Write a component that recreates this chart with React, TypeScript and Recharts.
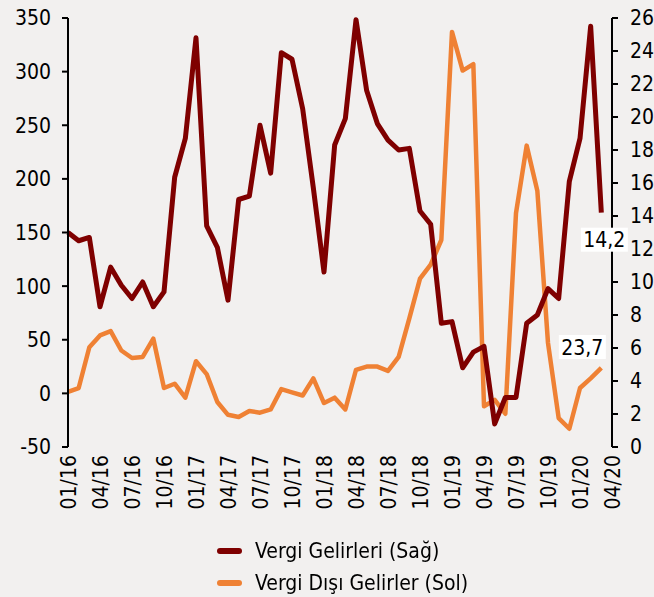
import React from 'react';
import { LineChart, Line, XAxis, YAxis, Legend, LabelList } from 'recharts';

const months = [
  '01/16', '02/16', '03/16', '04/16', '05/16', '06/16', '07/16', '08/16', '09/16', '10/16', '11/16', '12/16',
  '01/17', '02/17', '03/17', '04/17', '05/17', '06/17', '07/17', '08/17', '09/17', '10/17', '11/17', '12/17',
  '01/18', '02/18', '03/18', '04/18', '05/18', '06/18', '07/18', '08/18', '09/18', '10/18', '11/18', '12/18',
  '01/19', '02/19', '03/19', '04/19', '05/19', '06/19', '07/19', '08/19', '09/19', '10/19', '11/19', '12/19',
  '01/20', '02/20', '03/20', '04/20',
];

// Vergi Gelirleri (Sağ) - right axis
const vergiGelirleri = [
  13.0, 12.5, 12.7, 8.5, 10.9, 9.8, 9.0, 10.0, 8.5, 9.4, 16.35, 18.7, 24.8,
  13.4, 12.1, 8.9, 15.0, 15.2, 19.5, 16.6, 23.9, 23.5, 20.5, 15.7, 10.6, 18.3,
  19.9, 25.9, 21.6, 19.6, 18.6, 18.0, 18.1, 14.3, 13.5, 7.5, 7.6, 4.8,
  5.75, 6.1, 1.4, 3.0, 3.0, 7.5, 8.0, 9.6, 9.0, 16.1, 18.7, 25.5, 14.2,
];

// Vergi Dışı Gelirler (Sol) - left axis
const vergiDisiGelirler = [
  1.5, 5, 43, 54, 58, 40, 33, 34, 51, 5, 9, -4, 30,
  18, -8, -20, -22, -16.5, -18, -15, 4, 1, -2, 14, -9, -4,
  -15, 22, 25, 25, 21, 34, 70, 107, 120, 143, 337, 301,
  307, -12, -6, -19, 168, 231, 189, 47, -23, -33, 5, 14, 23.7,
];

const leftTicks = [-50, 0, 50, 100, 150, 200, 250, 300, 350];
const rightTicks = [0, 2, 4, 6, 8, 10, 12, 14, 16, 18, 20, 22, 24, 26];

const seriesNames = ['Vergi Gelirleri (Sağ)', 'Vergi Dışı Gelirler (Sol)'];
const colors = ['#7F0000', '#EF8134'];

const data = months.map((m, i) => ({
  month: m,
  vergi: i < vergiGelirleri.length ? vergiGelirleri[i] : null,
  disi: i < vergiDisiGelirler.length ? vergiDisiGelirler[i] : null,
}));

const lastIndex = vergiGelirleri.length - 1;
const FONT = '"DejaVu Sans Condensed", "DejaVu Sans", sans-serif';
const BG = '#F2F0EF';
const FS = 21;

const fmt = (v: number) => String(v).replace('.', ',');

const XTick = (props: any) => {
  const { x, y, payload } = props;
  return (
    <text
      x={x}
      y={y}
      transform={`rotate(-90, ${x}, ${y})`}
      textAnchor="end"
      dy="0.36em"
      fontSize={FS}
      fontFamily={FONT}
      fill="#000"
    >
      {payload.value}
    </text>
  );
};

const makeEndLabel = (dx: number, dy: number) => (props: any) => {
  const { x, y, value, index } = props;
  if (index !== lastIndex || value == null) return null;
  const cx = x + dx;
  const cy = y + dy;
  const w = 47;
  const h = 24;
  return (
    <g>
      <rect x={cx - w / 2} y={cy - h / 2} width={w} height={h} fill="#fff" />
      <text
        x={cx}
        y={cy}
        dy="0.36em"
        textAnchor="middle"
        fontSize={FS}
        fontFamily={FONT}
        fill="#000"
      >
        {fmt(value)}
      </text>
    </g>
  );
};

const renderLegend = () => (
  <div style={{ fontFamily: FONT, fontSize: FS, color: '#000' }}>
    {seriesNames.map((n, i) => (
      <div key={n} style={{ display: 'flex', alignItems: 'center', height: 32 }}>
        <span
          style={{
            display: 'inline-block',
            width: 25,
            height: 6,
            borderRadius: 3,
            background: colors[i],
            marginRight: 13,
          }}
        />
        <span>{n}</span>
      </div>
    ))}
  </div>
);

export default function App() {
  return (
    <div
      style={{
        position: 'fixed',
        left: 0,
        top: 0,
        width: 654,
        height: 597,
        background: BG,
      }}
    >
      <LineChart
        width={654}
        height={597}
        data={data}
        margin={{ top: 18, right: 0, left: 0, bottom: 75 }}
      >
        <XAxis
          dataKey="month"
          interval={2}
          axisLine={false}
          tickLine={false}
          height={75}
          tick={<XTick />}
        />
        <YAxis
          yAxisId="left"
          orientation="left"
          width={68}
          domain={[-50, 350]}
          ticks={leftTicks}
          interval={0}
          axisLine={{ stroke: '#000', strokeWidth: 2 }}
          tickLine={{ stroke: '#000', strokeWidth: 2 }}
          tickSize={6}
          tickMargin={11}
          tick={{ fill: '#000', fontSize: FS, fontFamily: FONT }}
        />
        <YAxis
          yAxisId="right"
          orientation="right"
          width={42}
          domain={[0, 26]}
          ticks={rightTicks}
          interval={0}
          axisLine={{ stroke: '#000', strokeWidth: 2 }}
          tickLine={{ stroke: '#000', strokeWidth: 2 }}
          tickSize={6}
          tickMargin={12}
          tick={{ fill: '#000', fontSize: FS, fontFamily: FONT }}
        />
        <Legend
          layout="vertical"
          align="center"
          verticalAlign="middle"
          content={renderLegend}
          wrapperStyle={{ position: 'absolute', top: 535, left: 217, width: 'auto' }}
        />
        <Line
          yAxisId="left"
          dataKey="disi"
          name={seriesNames[1]}
          stroke={colors[1]}
          strokeWidth={4.5}
          dot={false}
          strokeLinejoin="round"
          isAnimationActive={false}
          connectNulls={false}
        >
          <LabelList dataKey="disi" content={makeEndLabel(-19, -21)} />
        </Line>
        <Line
          yAxisId="right"
          dataKey="vergi"
          name={seriesNames[0]}
          stroke={colors[0]}
          strokeWidth={5}
          dot={false}
          strokeLinejoin="round"
          isAnimationActive={false}
          connectNulls={false}
        >
          <LabelList dataKey="vergi" content={makeEndLabel(3, 27)} />
        </Line>
      </LineChart>
    </div>
  );
}
